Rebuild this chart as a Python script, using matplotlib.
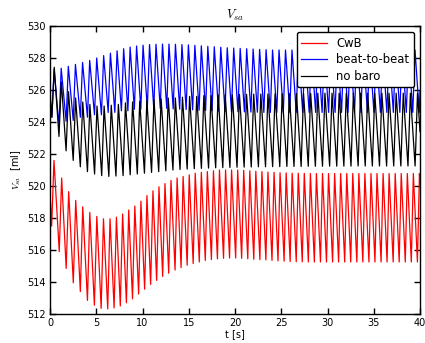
"""
plot.py
-------
Systemic arterial volume V_sa over 40 s for three baroreflex variants
(CwB, beat-to-beat, no baro).  Each trace is stored as the times and
values of its troughs and peaks read off the reference figure; the line
is drawn straight between those turning points.
Output: out.png
"""

import numpy as np
import matplotlib
matplotlib.use("Agg")
import matplotlib.pyplot as plt

# -- Data: CwB (red) -----------------------------------------------------------

red_start = (0.0, 519.6)
red_end = (40.0, 520.1)
red_trough_t = [0.18, 1.00, 1.75, 2.52, 3.28, 4.05, 4.80, 5.53, 6.24, 6.93,
                7.60, 8.26, 8.92, 9.58, 10.23, 10.88, 11.53, 12.18, 12.83, 13.52,
                14.17, 14.83, 15.48, 16.14, 16.79, 17.45, 18.10, 18.76, 19.41, 20.07,
                20.72, 21.38, 22.03, 22.69, 23.34, 24.00, 24.65, 25.31, 25.96, 26.62,
                27.27, 27.93, 28.58, 29.24, 29.89, 30.55, 31.20, 31.86, 32.51, 33.17,
                33.82, 34.48, 35.13, 35.79, 36.44, 37.10, 37.75, 38.41, 39.06, 39.72]
red_trough_v = [517.5, 515.9, 514.85, 513.95, 513.4, 512.85, 512.55, 512.35, 512.32, 512.38,
                512.5, 512.7, 512.95, 513.25, 513.55, 513.85, 514.1, 514.35, 514.55, 514.75,
                514.9, 515.05, 515.15, 515.25, 515.35, 515.4, 515.45, 515.48, 515.5, 515.5,
                515.48, 515.45, 515.42, 515.4, 515.38, 515.35, 515.32, 515.3, 515.28, 515.27,
                515.26, 515.25, 515.25, 515.25, 515.25, 515.25, 515.25, 515.25, 515.25, 515.25,
                515.25, 515.25, 515.25, 515.25, 515.25, 515.25, 515.25, 515.25, 515.25, 515.25]
red_peak_t = [0.43, 1.26, 2.02, 2.78, 3.54, 4.30, 5.06, 5.78, 6.49, 7.18,
              7.85, 8.51, 9.17, 9.83, 10.48, 11.13, 11.78, 12.43, 13.08, 13.74,
              14.39, 15.05, 15.70, 16.36, 17.01, 17.67, 18.32, 18.98, 19.63, 20.29,
              20.94, 21.60, 22.25, 22.91, 23.56, 24.22, 24.87, 25.53, 26.18, 26.84,
              27.49, 28.15, 28.80, 29.46, 30.11, 30.77, 31.42, 32.08, 32.73, 33.39,
              34.04, 34.70, 35.35, 36.01, 36.66, 37.32, 37.97, 38.63, 39.28, 39.94]
red_peak_v = [521.6, 520.5, 519.65, 519.1, 518.7, 518.35, 518.1, 517.95, 517.95, 518.05,
              518.25, 518.5, 518.75, 519.05, 519.4, 519.7, 519.95, 520.15, 520.35, 520.5,
              520.6, 520.7, 520.8, 520.85, 520.9, 520.95, 521.0, 521.0, 521.0, 521.0,
              520.98, 520.95, 520.92, 520.9, 520.87, 520.85, 520.83, 520.82, 520.8, 520.8,
              520.79, 520.78, 520.78, 520.78, 520.78, 520.78, 520.78, 520.78, 520.78, 520.78,
              520.78, 520.78, 520.78, 520.78, 520.78, 520.78, 520.78, 520.78, 520.78, 520.78]

# -- Data: beat-to-beat (blue) -------------------------------------------------

blue_start = [(0.0, 520.0), (0.04, 525.6)]
blue_end = (40.0, 525.9)
blue_trough_t = [0.20, 0.97, 1.74, 2.51, 3.28, 4.05, 4.81, 5.56, 6.29, 7.01,
                 7.72, 8.42, 9.12, 9.82, 10.52, 11.22, 11.92, 12.62, 13.32, 14.02,
                 14.72, 15.42, 16.12, 16.82, 17.52, 18.22, 18.92, 19.62, 20.32, 21.02,
                 21.72, 22.42, 23.12, 23.82, 24.52, 25.22, 25.92, 26.62, 27.32, 28.02,
                 28.72, 29.42, 30.12, 30.82, 31.52, 32.22, 32.92, 33.62, 34.32, 35.02,
                 35.72, 36.42, 37.12, 37.82, 38.52, 39.22, 39.92]
blue_trough_v = [524.3, 523.75, 524.05, 524.1, 524.3, 524.3, 524.45, 524.45, 524.6, 524.6,
                 524.7, 524.7, 524.8, 524.8, 524.85, 524.85, 524.85, 524.85, 524.82, 524.8,
                 524.78, 524.76, 524.74, 524.72, 524.7, 524.68, 524.66, 524.65, 524.64, 524.63,
                 524.62, 524.61, 524.6, 524.6, 524.6, 524.6, 524.6, 524.6, 524.6, 524.6,
                 524.6, 524.6, 524.6, 524.6, 524.6, 524.6, 524.6, 524.6, 524.6, 524.6,
                 524.6, 524.6, 524.6, 524.6, 524.6, 524.6, 524.6]
blue_peak_t = [0.45, 1.21, 1.98, 2.75, 3.52, 4.29, 5.05, 5.80, 6.53, 7.25,
               7.96, 8.66, 9.36, 10.06, 10.76, 11.46, 12.16, 12.86, 13.56, 14.26,
               14.96, 15.66, 16.36, 17.06, 17.76, 18.46, 19.16, 19.86, 20.56, 21.26,
               21.96, 22.66, 23.36, 24.06, 24.76, 25.46, 26.16, 26.86, 27.56, 28.26,
               28.96, 29.66, 30.36, 31.06, 31.76, 32.46, 33.16, 33.86, 34.56, 35.26,
               35.96, 36.66, 37.36, 38.06, 38.76, 39.46]
blue_peak_v = [527.3, 527.36, 527.48, 527.6, 527.72, 527.85, 528.0, 528.15, 528.3, 528.45,
               528.58, 528.68, 528.75, 528.8, 528.84, 528.86, 528.87, 528.87, 528.86, 528.84,
               528.82, 528.79, 528.76, 528.73, 528.7, 528.67, 528.64, 528.62, 528.6, 528.58,
               528.56, 528.54, 528.52, 528.5, 528.5, 528.5, 528.5, 528.5, 528.5, 528.5,
               528.5, 528.5, 528.5, 528.5, 528.5, 528.5, 528.5, 528.5, 528.5, 528.5,
               528.5, 528.5, 528.5, 528.5, 528.5, 528.5]

# -- Data: no baro (black) -----------------------------------------------------

black_start = (0.0, 525.6)
black_end = (40.0, 523.4)
black_trough_t = [0.20, 0.97, 1.74, 2.51, 3.28, 4.05, 4.82, 5.59, 6.36, 7.13,
                  7.90, 8.67, 9.44, 10.21, 10.98, 11.75, 12.52, 13.29, 14.06, 14.83,
                  15.60, 16.37, 17.14, 17.91, 18.68, 19.45, 20.22, 20.99, 21.76, 22.53,
                  23.30, 24.07, 24.84, 25.61, 26.38, 27.15, 27.92, 28.69, 29.46, 30.23,
                  31.00, 31.77, 32.54, 33.31, 34.08, 34.85, 35.62, 36.39, 37.16, 37.93,
                  38.70, 39.47]
black_trough_v = [524.3, 523.1, 522.2, 521.6, 521.2, 520.9, 520.75, 520.65, 520.6, 520.62,
                  520.65, 520.7, 520.75, 520.8, 520.85, 520.9, 520.95, 521.0, 521.03, 521.06,
                  521.08, 521.1, 521.12, 521.14, 521.15, 521.16, 521.17, 521.18, 521.19, 521.2,
                  521.2, 521.21, 521.21, 521.22, 521.22, 521.22, 521.23, 521.23, 521.23, 521.24,
                  521.24, 521.24, 521.24, 521.25, 521.25, 521.25, 521.25, 521.25, 521.25, 521.25,
                  521.25, 521.25]
black_peak_t = [0.46, 1.23, 2.00, 2.77, 3.54, 4.31, 5.08, 5.85, 6.62, 7.39,
                8.16, 8.93, 9.70, 10.47, 11.24, 12.01, 12.78, 13.55, 14.32, 15.09,
                15.86, 16.63, 17.40, 18.17, 18.94, 19.71, 20.48, 21.25, 22.02, 22.79,
                23.56, 24.33, 25.10, 25.87, 26.64, 27.41, 28.18, 28.95, 29.72, 30.49,
                31.26, 32.03, 32.80, 33.57, 34.34, 35.11, 35.88, 36.65, 37.42, 38.19,
                38.96, 39.73]
black_peak_v = [527.42, 526.5, 525.9, 525.5, 525.25, 525.1, 525.0, 525.0, 525.05, 525.1,
                525.2, 525.25, 525.3, 525.35, 525.4, 525.45, 525.5, 525.5, 525.55, 525.6,
                525.6, 525.65, 525.65, 525.7, 525.7, 525.7, 525.72, 525.73, 525.74, 525.75,
                525.75, 525.76, 525.77, 525.78, 525.78, 525.79, 525.79, 525.8, 525.8, 525.8,
                525.8, 525.8, 525.8, 525.8, 525.8, 525.8, 525.8, 525.8, 525.8, 525.8,
                525.8, 525.8]

LABELS = ["CwB", "beat-to-beat", "no baro"]
COLORS = ["r", "b", "k"]


def trace(start, trough_t, trough_v, peak_t, peak_v, end):
    """Merge start point, troughs, peaks and end point into one time-ordered line."""
    if isinstance(start, tuple):
        start = [start]
    t = np.array([p[0] for p in start] + trough_t + peak_t + [end[0]])
    v = np.array([p[1] for p in start] + trough_v + peak_v + [end[1]])
    order = np.argsort(t, kind="stable")
    return t[order], v[order]


series = [
    trace(red_start, red_trough_t, red_trough_v, red_peak_t, red_peak_v, red_end),
    trace(blue_start, blue_trough_t, blue_trough_v, blue_peak_t, blue_peak_v, blue_end),
    trace(black_start, black_trough_t, black_trough_v, black_peak_t, black_peak_v, black_end),
]

# -- Plot ----------------------------------------------------------------------

plt.rcParams["mathtext.fontset"] = "cm"
plt.rcParams["font.family"] = "DejaVu Sans"

fig = plt.figure(figsize=(4.25, 3.43), dpi=100, facecolor="white")
ax = fig.add_axes([50 / 425, 29 / 343, 370 / 425, 288 / 343])

for (t, v), label, color in zip(series, LABELS, COLORS):
    ax.plot(t, v, color=color, linewidth=0.9, label=label)

ax.set_xlim(0, 40)
ax.set_ylim(512, 530)
ax.set_xticks(np.arange(0, 41, 5))
ax.set_yticks(np.arange(512, 531, 2))

ax.tick_params(direction="in", top=True, right=True, length=4, width=1,
               labelsize=7, pad=3)
for spine in ax.spines.values():
    spine.set_linewidth(1.0)

ax.set_title("$V_{sa}$", fontsize=9, pad=5)
ax.set_xlabel("t [s]", fontsize=7, labelpad=1)
ax.set_ylabel("$V_{sa}$  [ml]", fontsize=7, labelpad=3)

leg = ax.legend(loc="upper right", bbox_to_anchor=(0.984, 0.979),
                borderaxespad=0, fontsize=8.4, fancybox=True,
                framealpha=1, edgecolor="black", handlelength=2.2,
                labelspacing=0.3, borderpad=0.4)
leg.get_frame().set_linewidth(1.0)

fig.savefig("out.png", dpi=100, facecolor="white")
